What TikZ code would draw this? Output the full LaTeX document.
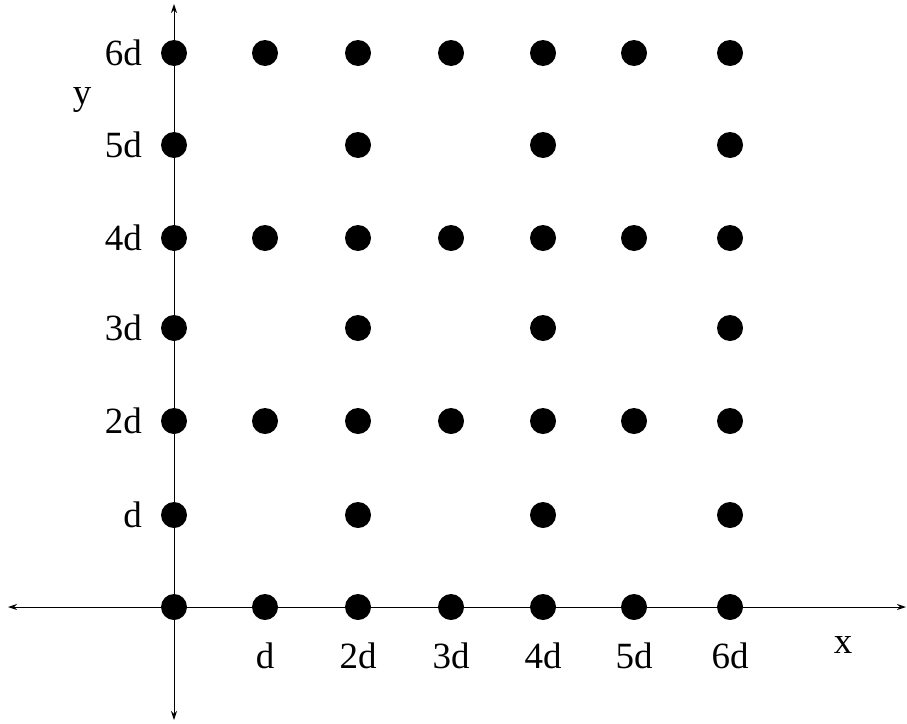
\documentclass[tikz,border=0pt]{standalone}
\usepackage{fontspec}
\setmainfont{Liberation Serif}
\usetikzlibrary{arrows.meta}
\begin{document}
\begin{tikzpicture}[x=1pt,y=-1pt,
  dot/.style={circle,fill=black,inner sep=0pt,minimum size=26pt},
  lab/.style={font=\fontsize{37}{42}\selectfont,inner sep=0pt},
  axis/.style={line width=1pt,{Stealth[length=9pt,width=6pt]}-{Stealth[length=9pt,width=6pt]}}]
\useasboundingbox (0,0) rectangle (907,723);
\coordinate (xl) at (8,607);
\coordinate (xr) at (906,607);
\coordinate (yt) at (174,4);
\coordinate (yb) at (174,720);
\draw[axis] (xl) -- (xr);
\draw[axis] (yb) -- (yt);
\foreach \j/\yy in {0/607,1/515,2/421,3/328,4/238,5/145,6/53}{
  \foreach \i/\xx in {0/174,1/265,2/358,3/451,4/543,5/634,6/730}{
    \pgfmathtruncatemacro{\show}{(mod(\j,2)==0) || (mod(\i,2)==0)}
    \ifnum\show=1
      \node[dot] (p\i\j) at (\xx,\yy) {};
    \fi
  }
}
\foreach \n/\yy/\t in {1/515/d,2/421/2d,3/328/3d,4/238/4d,5/145/5d,6/53/6d}{
  \node[lab,anchor=east] (ly\n) at (142,\yy) {\t};
}
\foreach \n/\xx/\t in {1/265/d,2/358/2d,3/451/3d,4/543/4d,5/634/5d,6/730/6d}{
  \node[lab] (lx\n) at (\xx,656) {\t};
}
\node[lab] (xlab) at (843,645) {x};
\node[lab] (ylab) at (82,100) {y};
\end{tikzpicture}
\end{document}
